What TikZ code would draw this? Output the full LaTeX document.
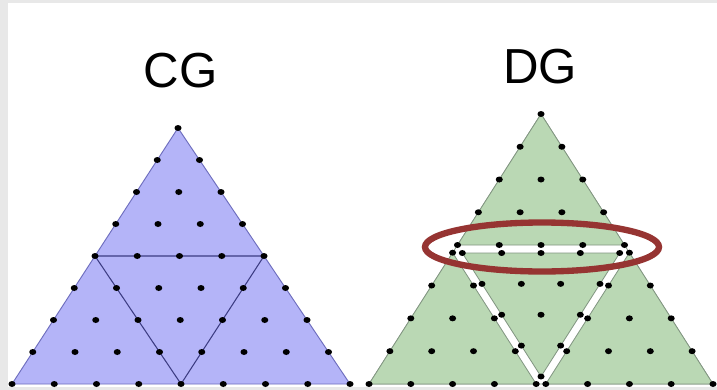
\documentclass[tikz,border=0pt]{standalone}
\usepackage{fontspec}
\setmainfont{Liberation Sans}
\usetikzlibrary{calc}
\definecolor{cgfill}{RGB}{180,180,248}
\definecolor{cgline}{RGB}{110,110,190}
\definecolor{cgedge}{RGB}{60,60,130}
\definecolor{dgfill}{RGB}{186,216,180}
\definecolor{dgline}{RGB}{130,150,130}
\definecolor{ring}{RGB}{150,52,50}
\definecolor{frame}{RGB}{232,232,232}

\begin{document}
\begin{tikzpicture}[x=0.03cm,y=-0.03cm,
  meshdot/.style={fill=black},
  title/.style={font=\fontsize{42}{50}\selectfont,anchor=base,inner sep=0pt}]
\fill[frame] (0,0) rectangle (717,390);
\fill[white] (8,3) rectangle (717,387);
\useasboundingbox (0,0) rectangle (717,390);
\node[title] (cg) at (180.5,87) {CG};
\node[title] (dg) at (540,83) {DG};
\coordinate (ca) at (178,128);
\coordinate (cb) at (12,384);
\coordinate (cc) at (350,384);
\coordinate (cab) at ($(ca)!0.5!(cb)$);
\coordinate (cac) at ($(ca)!0.5!(cc)$);
\coordinate (cbc) at ($(cb)!0.5!(cc)$);
\filldraw[fill=cgfill,draw=cgline,line width=0.8pt] (ca)--(cb)--(cc)--cycle;
\draw[cgedge,line width=0.9pt] (cab)--(cac)--(cbc)--cycle;
\foreach \r in {0,...,8}
  \foreach \k in {0,...,\r}
    \fill[meshdot] ($(ca)!{\r/8}!(cb) + {\k/8}*(cc) - {\k/8}*(cb)$) ellipse[x radius=0.105cm,y radius=0.09cm];
\coordinate (t1) at (541,114);
\coordinate (t2) at (457.5,245);
\coordinate (t3) at (624.5,245);
\coordinate (m1) at (462.3,253);
\coordinate (m2) at (619.7,253);
\coordinate (m3) at (541,376.5);
\coordinate (l1) at (452.6,252.7);
\coordinate (l2) at (369,384);
\coordinate (l3) at (536.2,384);
\coordinate (r1) at (629.4,252.7);
\coordinate (r2) at (545.8,384);
\coordinate (r3) at (713,384);
\filldraw[fill=white,draw=dgline,line width=0.6pt] (t1)--(l2)--(r3)--cycle;
\foreach \p/\q/\w in {t1/t2/t3,m1/m2/m3,l1/l2/l3,r1/r2/r3}
  \filldraw[fill=dgfill,draw=dgline,line width=0.7pt] (\p)--(\q)--(\w)--cycle;
\foreach \p/\q/\w in {t1/t2/t3,m1/m2/m3,l1/l2/l3,r1/r2/r3}
  \foreach \r in {0,...,4}
    \foreach \k in {0,...,\r}
      \fill[meshdot] ($(\p)!{\r/4}!(\q) + {\k/4}*(\w) - {\k/4}*(\q)$) ellipse[x radius=0.105cm,y radius=0.09cm];
\draw[ring,line width=0.19cm] (542,247) ellipse[x radius=117,y radius=24.5];
\end{tikzpicture}
\end{document}
